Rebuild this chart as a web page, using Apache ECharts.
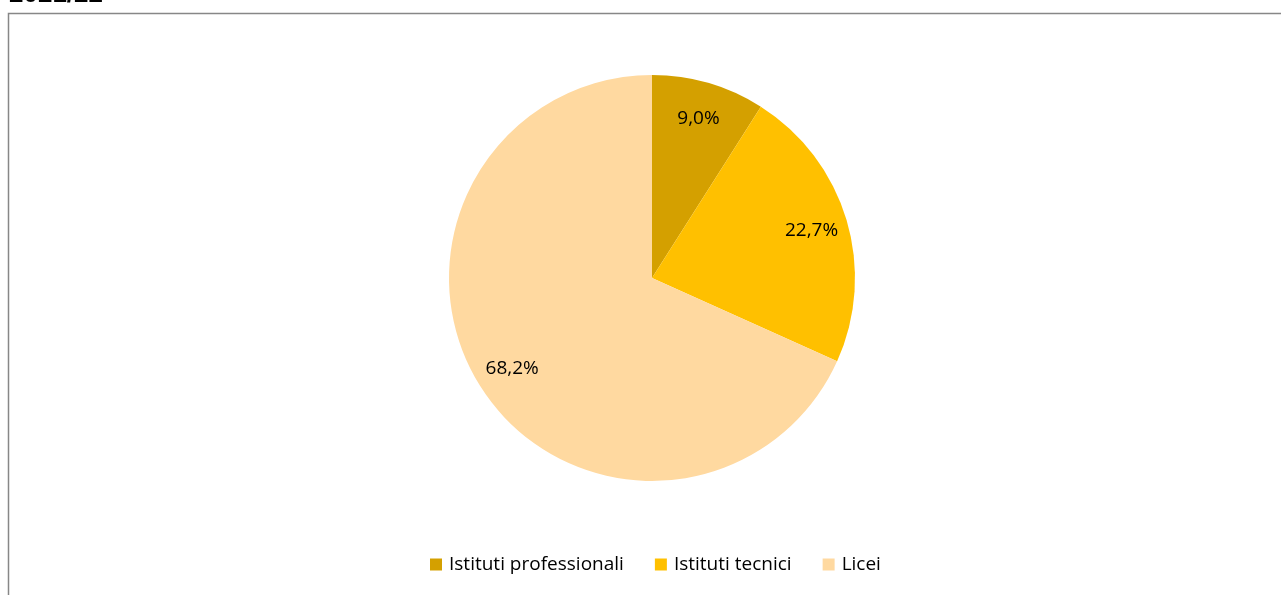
<!DOCTYPE html>
<html><head><meta charset="utf-8">
<script src="https://cdn.jsdelivr.net/npm/echarts@6/dist/echarts.min.js"></script>
<style>html,body{margin:0;padding:0;background:#fff}#c{width:1281px;height:595px}</style>
</head><body><div id="c"></div>
<script>
const categories = ['Istituti professionali', 'Istituti tecnici', 'Licei'];
const values = [9.0, 22.7, 68.2];
const colors = ['#D4A000', '#FFC000', '#FFD9A0'];
const titleText = '2021/22';

const chart = echarts.init(document.getElementById('c'));
const data = categories.map((n, i) => ({ name: n, value: values[i], itemStyle: { color: colors[i] } }));
const fmt = p => p.value.toFixed(1).replace('.', ',') + '%';
chart.setOption({
  animation: false,
  graphic: [
    { type: 'rect', shape: { x: 8.5, y: 13.5, width: 1400, height: 700 }, style: { fill: 'none', stroke: '#878787', lineWidth: 1.5 } },
    { type: 'text', x: 9, y: 8, style: { text: titleText, font: 'bold 26px "Liberation Sans", sans-serif', fill: '#000', verticalAlign: 'bottom' } }
  ],
  legend: {
    bottom: 16, left: 425, itemWidth: 12, itemHeight: 12, itemGap: 31, icon: 'rect',
    textStyle: { fontFamily: 'Open Sans, sans-serif', fontSize: 19, color: '#000', padding: [0, 0, 0, 2] },
    data: categories
  },
  series: [
    {
      type: 'pie', center: [652, 278], radius: [0, 203], startAngle: 90, clockwise: true,
      label: { show: false }, labelLine: { show: false }, data: data, silent: true
    },
    {
      type: 'pie', center: [652, 278], radius: [124, 203], startAngle: 90, clockwise: true,
      silent: true, itemStyle: { color: 'rgba(0,0,0,0)' },
      label: { show: true, position: 'inside', formatter: fmt, fontFamily: 'Open Sans, sans-serif', fontSize: 19, color: '#000' },
      labelLine: { show: false },
      data: categories.map((n, i) => ({ name: n, value: values[i], itemStyle: { color: 'rgba(0,0,0,0)' } }))
    }
  ]
});
</script></body></html>
